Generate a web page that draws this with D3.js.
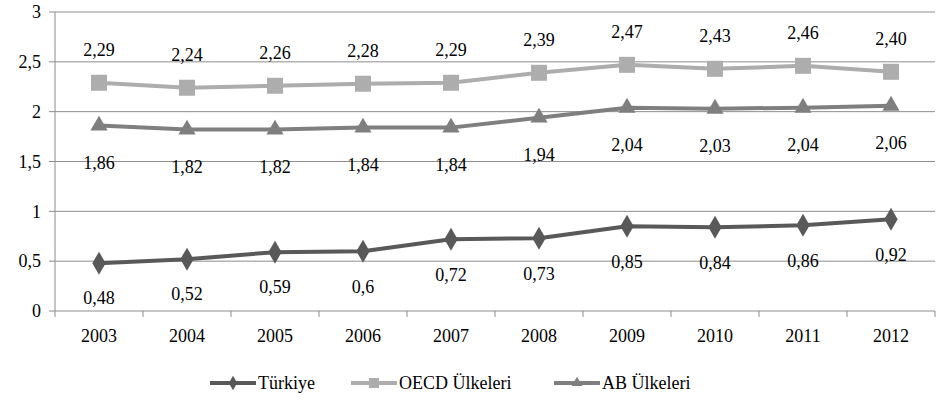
<!DOCTYPE html>
<html><head><meta charset="utf-8">
<script src="https://cdn.jsdelivr.net/npm/d3@7/dist/d3.min.js"></script>
<style>body{margin:0;background:#fff}svg{display:block}
svg text{font-family:'Liberation Serif','Times New Roman',serif;}</style>
</head><body><svg id="c" width="938" height="402"></svg>
<script>
const years = ["2003","2004","2005","2006","2007","2008","2009","2010","2011","2012"];
const turkiye = [0.48,0.52,0.59,0.6,0.72,0.73,0.85,0.84,0.86,0.92];
const turkiyeLabels = ["0,48","0,52","0,59","0,6","0,72","0,73","0,85","0,84","0,86","0,92"];
const oecd = [2.29,2.24,2.26,2.28,2.29,2.39,2.47,2.43,2.46,2.40];
const oecdLabels = ["2,29","2,24","2,26","2,28","2,29","2,39","2,47","2,43","2,46","2,40"];
const ab = [1.86,1.82,1.82,1.84,1.84,1.94,2.04,2.03,2.04,2.06];
const abLabels = ["1,86","1,82","1,82","1,84","1,84","1,94","2,04","2,03","2,04","2,06"];
const yTicks = [0,0.5,1,1.5,2,2.5,3];
const yTickLabels = ["0","0,5","1","1,5","2","2,5","3"];
const seriesNames = ["Türkiye","OECD Ülkeleri","AB Ülkeleri"];

const svg = d3.select("#c");
const L=55, R=935, T=12, B=311;
const x = d3.scaleBand().domain(years).range([L,R]);
const y = d3.scaleLinear().domain([0,3]).range([B,T]);
const grid="#8c8c8c";

svg.append("g").selectAll("line").data(yTicks).join("line")
  .attr("x1",L-6).attr("x2",R).attr("y1",d=>y(d)).attr("y2",d=>y(d))
  .attr("stroke",grid).attr("stroke-width",1);
svg.append("line").attr("x1",L).attr("x2",L).attr("y1",T).attr("y2",B).attr("stroke",grid);
svg.append("g").selectAll("text").data(yTicks).join("text")
  .attr("x",L-14).attr("y",d=>y(d)).attr("dy","0.35em").attr("text-anchor","end")
  .attr("font-size",18).attr("fill","#000").text((d,i)=>yTickLabels[i]);
const bounds = years.map(d=>x(d)).concat([R]);
svg.append("g").selectAll("line").data(bounds).join("line")
  .attr("x1",d=>d).attr("x2",d=>d).attr("y1",B).attr("y2",B+6).attr("stroke",grid);
svg.append("g").selectAll("text").data(years).join("text")
  .attr("x",d=>x(d)+x.bandwidth()/2).attr("y",B+31).attr("text-anchor","middle")
  .attr("font-size",18).attr("fill","#000").text(d=>d);

const cx = d=>x(d)+x.bandwidth()/2;
const line = d3.line().x((d,i)=>cx(years[i])).y(d=>y(d));

function marker(g, type, color, px, py, s){
  if(type==="diamond"){
    g.append("path").attr("d",d3.symbol(d3.symbolDiamond,s*s*0.6)()).attr("transform",`translate(${px},${py}) `).attr("fill",color);
  } else if(type==="square"){
    g.append("rect").attr("x",px-s/2).attr("y",py-s/2).attr("width",s).attr("height",s).attr("fill",color);
  } else {
    g.append("path").attr("d",d3.symbol(d3.symbolTriangle,s*s*0.5)()).attr("transform",`translate(${px},${py})`).attr("fill",color);
  }
}

const series = [
  {vals:oecd, labels:oecdLabels, color:"#adadad", type:"square", size:16, dy:-33},
  {vals:ab, labels:abLabels, color:"#7f7f7f", type:"triangle", size:16, dy:37},
  {vals:turkiye, labels:turkiyeLabels, color:"#595959", type:"diamond", size:16, dy:35}
];
series.forEach(s=>{
  const g = svg.append("g");
  g.append("path").datum(s.vals).attr("d",line).attr("fill","none").attr("stroke",s.color).attr("stroke-width",4).attr("stroke-linejoin","round");
  s.vals.forEach((v,i)=>marker(g,s.type,s.color,cx(years[i]),y(v),s.size));
  g.selectAll("text").data(s.vals).join("text")
    .attr("x",(d,i)=>cx(years[i])).attr("y",d=>y(d)+s.dy).attr("dy","0.35em")
    .attr("text-anchor","middle").attr("font-size",18).attr("fill","#000")
    .text((d,i)=>s.labels[i]);
});

const leg = [
  {name:seriesNames[0], color:"#595959", type:"diamond", x0:210},
  {name:seriesNames[1], color:"#adadad", type:"square", x0:351},
  {name:seriesNames[2], color:"#7f7f7f", type:"triangle", x0:554}
];
const ly = 383;
leg.forEach(l=>{
  const g = svg.append("g");
  g.append("line").attr("x1",l.x0).attr("x2",l.x0+46).attr("y1",ly).attr("y2",ly).attr("stroke",l.color).attr("stroke-width",4);
  marker(g,l.type,l.color,l.x0+23,ly,10);
  g.append("text").attr("x",l.x0+48).attr("y",ly).attr("dy","0.35em").attr("font-size",18).attr("fill","#000").text(l.name);
});
</script></body></html>
